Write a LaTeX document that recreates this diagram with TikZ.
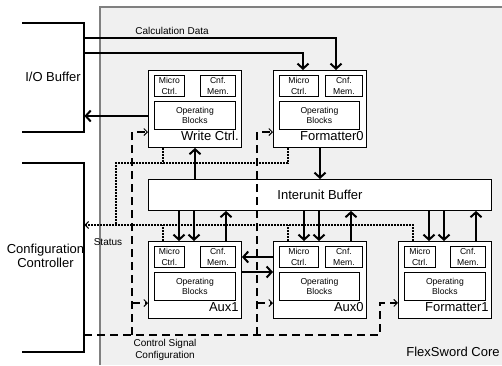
\documentclass[tikz,border=0pt]{standalone}
\usepackage{fontspec}
\setmainfont{Liberation Sans}
\usetikzlibrary{arrows.meta,calc}
\definecolor{coreback}{RGB}{240,240,240}
\definecolor{coreedge}{RGB}{128,128,128}
% one processing unit: name, corner, micro width, cnf width, op width, label
\newcommand\fsunit[6]{%
  \node[unitbox] (#1) at (#2) {};
  \node[subbox, minimum width=#3, minimum height=21] (#1-mc) at ($(#1.north west)+(6,5)$) {Micro\\Ctrl.};
  \node[subbox, minimum width=#4, minimum height=21] (#1-cm) at ($(#1.north west)+(52,5)$) {Cnf.\\Mem.};
  \node[subbox, minimum width=#5, minimum height=28] (#1-ob) at ($(#1.north west)+(6,31)$) {Operating\\Blocks};
  \node[unitname] (#1-name) at ($(#1.south east)+(-3,-7)$) {#6};
}
\begin{document}
\begin{tikzpicture}[x=1pt,y=-1pt,
  bigtext/.style={font=\fontsize{13}{14.5}\selectfont, align=center, inner sep=0},
  smalltext/.style={font=\fontsize{10}{12}\selectfont, align=center, inner sep=0},
  unitbox/.style={draw, fill=white, line width=0.9pt, inner sep=0, anchor=north west,
    minimum width=93, minimum height=77},
  subbox/.style={draw, line width=0.8pt, inner sep=0, anchor=north west, align=center,
    font=\fontsize{8.6}{10.5}\selectfont},
  unitname/.style={anchor=base east, inner sep=0, font=\fontsize{13}{14}\selectfont},
  bracketbox/.style={inner sep=0, anchor=north west, minimum width=62},
  bus/.style={line width=2pt},
  bigtip/.tip={Straight Barb[length=5pt,width=11pt]},
  smalltip/.tip={Straight Barb[length=3.5pt,width=7pt,line width=1pt]},
  ctrl/.style={line width=2pt, dash pattern=on 8pt off 5pt},
  status/.style={line width=1.9pt, dash pattern=on 1.8pt off 1.2pt},
]
\useasboundingbox (0,0) rectangle (502,365);

% FlexSword core area
\fill[coreback] (100,7) rectangle (502,365);
\draw[coreedge, line width=1.4pt] (100,365) -- (100,7) -- (502,7);

% external blocks (brackets)
\node[bracketbox, minimum height=109] (io) at (22,23) {};
\node[bigtext] (iotext) at (53,77) {I/O Buffer};
\draw[line width=2pt] (io.north west) -- (io.north east) -- (io.south east) -- (io.south west);
\node[bracketbox, minimum height=189] (cfg) at (22,163) {};
\node[bigtext] (cfgtext) at (45.5,256) {Configuration\\Controller};
\draw[line width=2pt] (cfg.north west) -- (cfg.north east) -- (cfg.south east) -- (cfg.south west);

% units
\fsunit{wc}{148,70}{30}{35}{81}{Write Ctrl.}
\fsunit{f0}{273,70}{39}{37}{80}{Formatter0}
\fsunit{a1}{148,241}{30}{35}{81}{Aux1}
\fsunit{a0}{273,241}{39}{37}{80}{Aux0}
\fsunit{f1}{398,241}{31}{35}{81}{Formatter1}

% interunit buffer
\node[draw, fill=white, line width=0.9pt, anchor=north west, minimum width=343, minimum height=31,
  inner sep=0, font=\fontsize{13}{14}\selectfont] (ib) at (148,179) {Interunit Buffer};

% labels
\node[smalltext] (calclabel) at (172,31) {Calculation Data};
\node[smalltext] (statuslabel) at (108,242) {Status};
\node[smalltext] (ctrllabel) at (165,350) {Control Signal\\Configuration};
\node[bigtext] (corelabel) at (453,352) {FlexSword Core};

% calculation data
\draw[bus,-bigtip] ($(io.north east)+(0,15)$) -| ($(f0.north west)+(63,0)$);
\draw[bus,-bigtip] ($(io.north east)+(0,30)$) -| ($(f0.north west)+(30,0)$);
\draw[bus,-bigtip] ($(wc.north west)+(0,46)$) coordinate (wcout) -- (wcout -| io.east);

% interunit buffer traffic
\draw[bus,-bigtip] ($(ib.north west)+(47,0)$) -- ($(wc.south west)+(47,0)$);
\draw[bus,-bigtip] ($(f0.south west)+(47,0)$) coordinate (p) -- (p |- ib.north);
\foreach \u in {a1,a0,f1} {
  \draw[bus,bigtip-] ($(\u.north west)+(31,0)$) coordinate (p) -- (p |- ib.south);
  \draw[bus,bigtip-] ($(\u.north west)+(46,0)$) coordinate (p) -- (p |- ib.south);
  \draw[bus,-bigtip] ($(\u.north west)+(78,0)$) coordinate (p) -- (p |- ib.south);
}
\draw[bus,-bigtip] ($(a0.north west)+(0,16)$) coordinate (p) -- (p -| a1.east);
\draw[bus,-bigtip] ($(a1.north east)+(0,31)$) coordinate (p) -- (p -| a0.west);

% status lines
\coordinate (stat) at (116,225);
\draw[status] ($(wc.south west)+(15,0)$) -- +(0,16);
\draw[status] ($(f0.south west)+(15,0)$) |- (116,163) -- (stat);
\draw[status,-smalltip] ($(f1.north west)+(15,0)$) |- (stat -| cfg.east);
\draw[status] ($(a1.north west)+(15,0)$) coordinate (p) -- (p |- stat);
\draw[status] ($(a0.north west)+(15,0)$) coordinate (p) -- (p |- stat);

% control signal / configuration lines
\coordinate (cbus) at (0,335);
\draw[ctrl,-smalltip] (cfg.east |- cbus) -| ($(f1.south west)+(-18,-16)$) coordinate (q) -- (q -| f1.west);
\coordinate (c1) at ($(wc.north west)+(-16,0)$);
\coordinate (c2) at ($(f0.north west)+(-16,0)$);
\draw[ctrl,-smalltip] (c1 |- cbus) |- ($(wc.north west)+(0,62)$);
\draw[ctrl,-smalltip] (c2 |- cbus) |- ($(f0.north west)+(0,62)$);
\draw[ctrl,-smalltip] ($(a1.north west)+(-16,62)$) -- ($(a1.north west)+(0,62)$);
\draw[ctrl,-smalltip] ($(a0.north west)+(-16,62)$) -- ($(a0.north west)+(0,62)$);
\end{tikzpicture}
\end{document}
